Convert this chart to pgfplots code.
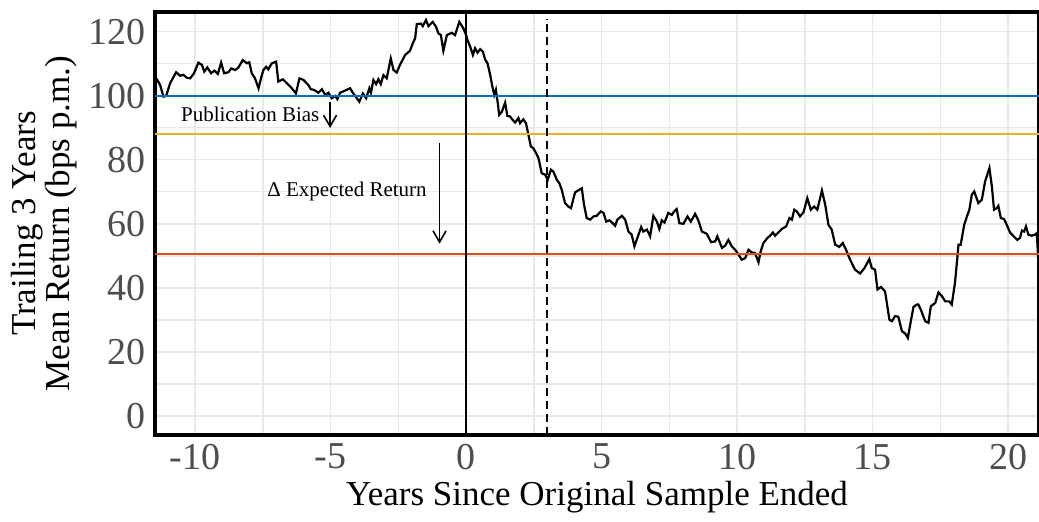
\documentclass[border=0pt]{standalone}
\usepackage{fontspec}
\setmainfont{Liberation Serif}
\usepackage{pgfplots}
\pgfplotsset{compat=1.18}
\usetikzlibrary{arrows.meta}
\definecolor{mblue}{rgb}{0,0.447,0.741}
\definecolor{mgold}{rgb}{0.929,0.694,0.125}
\definecolor{morange}{rgb}{0.85,0.325,0.098}
\definecolor{gridgray}{RGB}{232,232,232}
\definecolor{tickgray}{RGB}{77,77,77}
\begin{document}
\begin{tikzpicture}
\useasboundingbox (0,0) rectangle (519.5pt,260.5pt);
\begin{axis}[
  at={(77.5pt,43pt)}, anchor=south west,
  scale only axis, width=442pt, height=211.5pt,
  xmin=-11.48, xmax=21.14, ymin=-5.9, ymax=126.1,
  xtick={-10,-5,0,5,10,15,20},
  xticklabels={-10,-5,0,5,10,15,20},
  ytick={0,20,40,60,80,100,120},
  yticklabels={0,20,40,60,80,100,120},
  minor xtick={-7.5,-2.5,2.5,7.5,12.5,17.5},
  minor ytick={10,30,50,70,90,110},
  grid=both,
  major grid style={gridgray, line width=0.7pt},
  minor grid style={gridgray, line width=0.7pt},
  major tick length=0pt, minor tick length=0pt,
  axis line style={black, line width=1.7pt},
  ticklabel style={font=\fontsize{19}{21}\selectfont, text=tickgray},
  xticklabel style={yshift=-1pt},
  yticklabel style={xshift=-1pt},
  xlabel={Years Since Original Sample Ended},
  ylabel={Trailing 3 Years\\Mean Return (bps p.m.)},
  label style={font=\fontsize{17.5}{14.5}\selectfont},
  ylabel style={align=center, at={(axis description cs:-0.1256,0.5)}, anchor=center},
  xlabel style={at={(axis description cs:0.5,-0.146)}, anchor=center},
  clip=true,
]
\addplot[black, line width=1.1pt] coordinates {
(-11.48,105.5) (-11.41,105.1) (-11.29,103.3) (-11.17,99.7) (-11.07,99.9) (-10.92,103.9) (-10.70,107.3) (-10.55,106.2) (-10.43,106.5) (-10.31,105.6) (-10.18,105.4) (-10.04,107.0) (-9.88,110.3) (-9.75,109.6) (-9.66,107.5) (-9.55,108.8) (-9.41,107.0) (-9.29,107.8) (-9.16,106.8) (-9.04,110.3) (-8.93,107.0) (-8.77,107.3) (-8.67,108.5) (-8.52,108.0) (-8.40,108.8) (-8.24,111.1) (-8.09,110.1) (-8.00,110.4) (-7.91,107.0) (-7.79,105.4) (-7.66,102.3) (-7.56,105.7) (-7.48,108.0) (-7.38,109.0) (-7.30,108.2) (-7.17,110.1) (-7.01,110.6) (-6.93,104.4) (-6.76,105.1) (-6.62,103.9) (-6.43,102.3) (-6.28,100.7) (-6.15,105.4) (-6.00,104.9) (-5.82,103.3)
(-5.73,102.0) (-5.61,101.8) (-5.45,100.9) (-5.32,102.0) (-5.20,100.2) (-5.08,100.9) (-4.96,99.2) (-4.83,99.9) (-4.75,98.9) (-4.65,100.9) (-4.46,101.6) (-4.28,102.3) (-4.18,100.9) (-4.06,99.5) (-3.94,98.1) (-3.81,100.7) (-3.69,99.2) (-3.57,102.3) (-3.51,100.9) (-3.42,104.9) (-3.32,103.6) (-3.24,105.1) (-3.15,103.6) (-3.05,106.4) (-2.93,105.4) (-2.78,111.6) (-2.68,108.0) (-2.56,107.2) (-2.44,109.6) (-2.25,112.7) (-2.07,114.0) (-1.97,116.3) (-1.88,117.9) (-1.82,122.3) (-1.67,122.5) (-1.60,121.7) (-1.48,123.6) (-1.39,121.7) (-1.23,123.0) (-1.11,121.5) (-1.02,119.4) (-0.93,118.9) (-0.84,114.0) (-0.71,118.9) (-0.53,119.6) (-0.41,118.9) (-0.25,123.0) (-0.10,121.0) (0.00,118.9)
(0.05,117.4) (0.15,115.3) (0.25,112.7) (0.33,114.8) (0.42,113.4) (0.52,114.5) (0.62,113.7) (0.70,111.3) (0.79,110.1) (0.89,106.4) (0.97,102.8) (1.04,100.2) (1.10,101.8) (1.17,97.6) (1.22,94.0) (1.32,95.0) (1.44,97.8) (1.52,93.7) (1.62,93.5) (1.72,92.4) (1.81,91.6) (1.93,93.0) (1.99,91.4) (2.11,92.6) (2.21,91.4) (2.30,87.8) (2.39,84.1) (2.48,83.6) (2.58,82.1) (2.67,80.5) (2.79,75.8) (2.92,75.3) (3.01,73.7) (3.13,76.9) (3.22,76.3) (3.35,73.7) (3.44,72.7) (3.53,70.6) (3.65,66.5) (3.77,65.4) (3.87,64.9) (4.02,69.8) (4.17,70.6) (4.27,71.1) (4.35,66.0) (4.45,61.8) (4.58,61.3) (4.70,62.3) (4.82,62.5) (4.97,63.9) (5.07,63.4) (5.17,60.7) (5.29,61.1) (5.41,60.2) (5.50,59.4)
(5.58,61.3) (5.75,62.5) (5.87,61.3) (5.99,57.6) (6.11,56.6) (6.21,53.0) (6.34,56.1) (6.46,59.0) (6.54,57.6) (6.67,58.2) (6.79,56.1) (6.91,62.5) (7.04,60.7) (7.13,58.4) (7.22,61.1) (7.32,60.4) (7.46,63.4) (7.59,62.8) (7.68,63.9) (7.77,64.6) (7.87,60.2) (8.02,60.0) (8.17,62.3) (8.29,60.7) (8.45,63.1) (8.57,61.1) (8.70,57.6) (8.88,56.9) (9.04,54.3) (9.19,54.5) (9.27,56.1) (9.44,52.5) (9.56,53.2) (9.68,55.0) (9.80,53.0) (9.93,51.9) (10.05,50.4) (10.17,48.8) (10.30,49.3) (10.42,51.9) (10.54,51.1) (10.66,50.9) (10.79,48.0) (10.87,51.4) (10.97,54.0) (11.12,55.6) (11.22,56.3) (11.32,57.3) (11.40,56.3) (11.56,57.6)
(11.65,58.4) (11.81,59.2) (11.93,61.8) (12.02,61.3) (12.11,64.4) (12.20,63.9) (12.32,62.3) (12.45,63.6) (12.59,68.0) (12.72,64.4) (12.84,65.4) (12.96,64.4) (13.13,70.4) (13.25,66.0) (13.37,59.7) (13.49,58.2) (13.62,53.5) (13.77,52.8) (13.90,54.0) (14.02,51.9) (14.17,48.8) (14.35,45.7) (14.54,44.5) (14.70,46.2) (14.88,49.0) (14.97,46.2) (15.09,45.7) (15.18,39.5) (15.31,40.3) (15.46,38.9) (15.62,30.1) (15.71,29.6) (15.83,31.2) (15.95,31.0) (16.08,26.5) (16.20,25.8) (16.30,24.4) (16.41,29.6) (16.51,34.1) (16.63,34.8) (16.69,34.8)
(16.78,33.2) (16.94,29.6) (17.06,29.1) (17.15,34.3) (17.31,35.3) (17.43,38.6) (17.56,37.4) (17.68,35.8) (17.83,35.8) (17.92,34.8) (18.04,41.6) (18.17,53.5) (18.25,53.5) (18.38,59.7) (18.48,62.3) (18.57,64.4) (18.66,69.1) (18.75,70.1) (18.90,66.5) (19.03,67.5) (19.15,73.2) (19.31,77.4) (19.40,71.7) (19.48,64.4) (19.58,64.9) (19.64,65.6) (19.73,61.8) (19.85,61.5) (19.95,59.7) (20.07,57.3) (20.23,55.9) (20.34,55.0) (20.44,55.6) (20.51,57.9) (20.59,57.6) (20.66,59.2) (20.75,56.6) (20.87,56.3) (20.99,56.6) (21.06,57.1) (21.12,47.3)
};
\addplot[mblue, line width=1pt] coordinates {(-11.48,100) (21.14,100)};
\addplot[mgold, line width=1pt] coordinates {(-11.48,88) (21.14,88)};
\addplot[morange, line width=1pt] coordinates {(-11.48,50.5) (21.14,50.5)};
\addplot[black, line width=1pt] coordinates {(0,-5.9) (0,126.1)};
\addplot[black, line width=1pt, dash pattern=on 4pt off 2.5pt] coordinates {(3,-5.9) (3,124)};
\node[anchor=east, font=\fontsize{10.5}{12}\selectfont, inner sep=0pt] at (axis cs:-5.4,94.2) {Publication Bias};
\draw[line width=0.8pt, -{Straight Barb[angle=60:6.5pt]}] (axis cs:-5.02,98.1) -- (axis cs:-5.02,89.9);
\node[anchor=east, font=\fontsize{10.5}{12}\selectfont, inner sep=0pt] at (axis cs:-1.44,70.2) {Δ Expected Return};
\draw[line width=0.8pt, -{Straight Barb[angle=60:6.5pt]}] (axis cs:-0.98,85.2) -- (axis cs:-0.98,53.8);
\end{axis}
\end{tikzpicture}
\end{document}
